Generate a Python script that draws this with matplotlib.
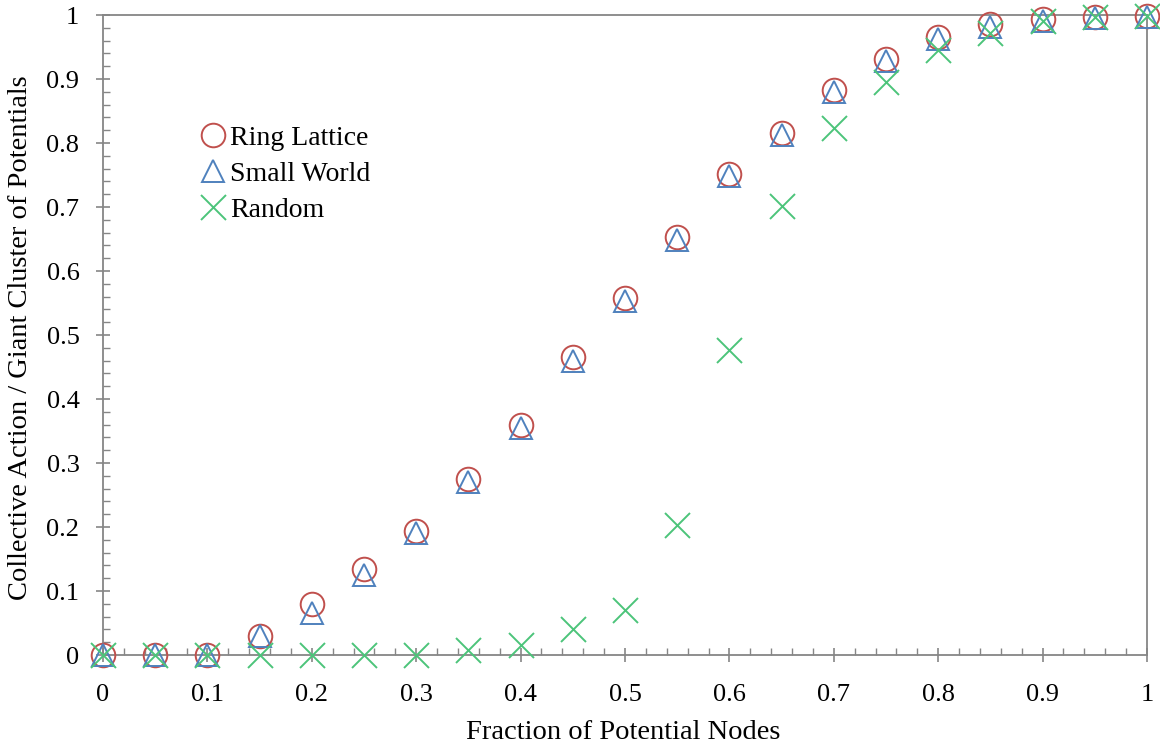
import matplotlib.pyplot as plt
from matplotlib.ticker import MultipleLocator, FuncFormatter

plt.rcParams['font.family'] = ['Liberation Serif', 'DejaVu Serif']

fraction = [0, 0.05, 0.1, 0.15, 0.2, 0.25, 0.3, 0.35, 0.4, 0.45, 0.5,
            0.55, 0.6, 0.65, 0.7, 0.75, 0.8, 0.85, 0.9, 0.95, 1.0]
ring_lattice = [0, 0, 0, 0.03, 0.08, 0.135, 0.194, 0.275, 0.36, 0.466, 0.558,
                0.653, 0.752, 0.815, 0.883, 0.931, 0.966, 0.986, 0.994, 0.997, 0.998]
small_world = [0, 0, 0, 0.03, 0.065, 0.125, 0.19, 0.27, 0.355, 0.46, 0.553,
               0.648, 0.748, 0.812, 0.88, 0.928, 0.962, 0.982, 0.99, 0.995, 0.997]
random_net = [0, 0, 0, 0, 0, 0, 0, 0.008, 0.015, 0.04, 0.07,
              0.203, 0.477, 0.701, 0.823, 0.895, 0.945, 0.972, 0.99, 0.997, 0.998]

red = '#C0504D'
blue = '#4F81BD'
green = '#4CC47A'
grey = '#868686'

fig = plt.figure(figsize=(11.6, 7.44), dpi=100)
ax = fig.add_axes([0.0888, 0.1196, 0.9, 0.8602])

ax.plot(fraction, ring_lattice, linestyle='none', marker='o', markersize=17,
        markerfacecolor='none', markeredgecolor=red, markeredgewidth=1.4,
        label='Ring Lattice', clip_on=False, zorder=3)
ax.plot(fraction, small_world, linestyle='none', marker='^', markersize=16,
        markerfacecolor='none', markeredgecolor=blue, markeredgewidth=1.4,
        label='Small World', clip_on=False, zorder=3)
ax.plot(fraction, random_net, linestyle='none', marker='x', markersize=18,
        markeredgecolor=green, markeredgewidth=1.4,
        label='Random', clip_on=False, zorder=3)

ax.set_xlim(0, 1)
ax.set_ylim(0, 1)
ax.xaxis.set_major_locator(MultipleLocator(0.1))
ax.xaxis.set_minor_locator(MultipleLocator(0.02))
ax.yaxis.set_major_locator(MultipleLocator(0.1))
ax.yaxis.set_minor_locator(MultipleLocator(0.02))
fmt = FuncFormatter(lambda v, p: '{:g}'.format(round(v, 2)))
ax.xaxis.set_major_formatter(fmt)
ax.yaxis.set_major_formatter(fmt)

for s in ax.spines.values():
    s.set_color(grey)
    s.set_linewidth(1.3)
ax.tick_params(which='major', direction='inout', length=10, width=1.2,
               color=grey, labelsize=19)
ax.tick_params(axis='x', which='major', pad=16)
ax.tick_params(axis='y', which='major', pad=12)
ax.tick_params(which='minor', direction='in', length=5, width=1.0, color=grey)

ax.set_xlabel('Fraction of Potential Nodes', fontsize=20.5)
ax.set_ylabel('Collective Action / Giant Cluster of Potentials', fontsize=20.5)
ax.xaxis.set_label_coords(0.4986, -0.101)
ax.yaxis.set_label_coords(-0.067, 0.496)

ax.legend(loc='upper left', bbox_to_anchor=(0.0948, 0.828), frameon=False,
          fontsize=20, handlelength=0.8, handletextpad=0.2, labelspacing=0.39,
          borderaxespad=0, borderpad=0)

fig.savefig('out.png', dpi=100)
